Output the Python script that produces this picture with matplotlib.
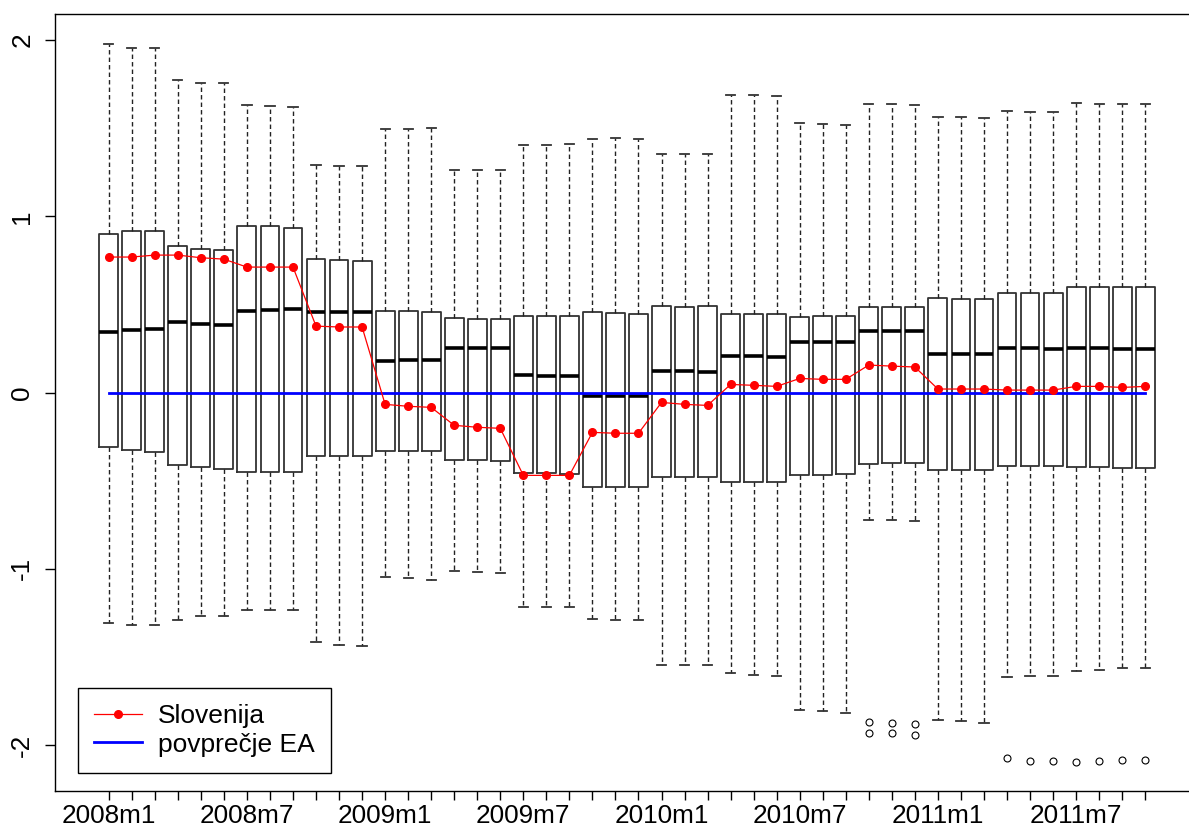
import matplotlib
matplotlib.use('Agg')
import matplotlib.pyplot as plt

plt.rcParams['font.family'] = ['Liberation Sans', 'DejaVu Sans']
plt.rcParams['axes.unicode_minus'] = False

# mesečne porazdelitve 2008m1 - 2011m10
months = ['%dm%d' % (y, m) for y in (2008, 2009, 2010, 2011) for m in range(1, 13)][:46]
tick_labels = ['2008m1', '2008m7', '2009m1', '2009m7', '2010m1', '2010m7', '2011m1', '2011m7']

whis_hi = [1.980, 1.956, 1.956, 1.775, 1.754, 1.754, 1.633, 1.627, 1.622, 1.291, 1.287, 1.287,
           1.497, 1.497, 1.502, 1.262, 1.262, 1.262, 1.406, 1.404, 1.410, 1.440, 1.446, 1.440,
           1.353, 1.353, 1.353, 1.688, 1.688, 1.682, 1.529, 1.523, 1.518, 1.637, 1.637, 1.631,
           1.563, 1.563, 1.557, 1.599, 1.593, 1.593, 1.645, 1.639, 1.639, 1.639]
q3 = [0.901, 0.914, 0.914, 0.831, 0.816, 0.810, 0.946, 0.946, 0.935, 0.759, 0.754, 0.748,
      0.462, 0.462, 0.457, 0.423, 0.417, 0.417, 0.434, 0.434, 0.434, 0.457, 0.451, 0.445,
      0.491, 0.485, 0.491, 0.445, 0.445, 0.445, 0.428, 0.434, 0.434, 0.485, 0.485, 0.485,
      0.536, 0.530, 0.530, 0.565, 0.565, 0.565, 0.599, 0.599, 0.599, 0.599]
med = [0.343, 0.355, 0.360, 0.400, 0.389, 0.383, 0.462, 0.468, 0.474, 0.457, 0.457, 0.457,
       0.179, 0.184, 0.184, 0.252, 0.252, 0.252, 0.099, 0.094, 0.094, -0.020, -0.020, -0.022,
       0.122, 0.122, 0.116, 0.207, 0.207, 0.201, 0.287, 0.287, 0.287, 0.349, 0.349, 0.349,
       0.218, 0.218, 0.218, 0.252, 0.252, 0.247, 0.252, 0.252, 0.247, 0.247]
q1 = [-0.311, -0.324, -0.336, -0.413, -0.425, -0.436, -0.449, -0.449, -0.449, -0.362, -0.362, -0.362,
      -0.334, -0.334, -0.334, -0.385, -0.385, -0.390, -0.459, -0.459, -0.462, -0.538, -0.538, -0.538,
      -0.481, -0.481, -0.481, -0.510, -0.510, -0.510, -0.470, -0.470, -0.464, -0.407, -0.402, -0.402,
      -0.441, -0.441, -0.441, -0.419, -0.419, -0.419, -0.425, -0.425, -0.430, -0.430]
whis_lo = [-1.306, -1.317, -1.317, -1.291, -1.266, -1.266, -1.234, -1.234, -1.234, -1.416, -1.431, -1.438,
           -1.047, -1.053, -1.064, -1.013, -1.018, -1.024, -1.215, -1.215, -1.215, -1.283, -1.289, -1.289,
           -1.544, -1.544, -1.544, -1.590, -1.601, -1.609, -1.801, -1.807, -1.818, -0.723, -0.725, -0.730,
           -1.858, -1.864, -1.875, -1.614, -1.609, -1.609, -1.578, -1.573, -1.563, -1.563]
outliers = {33: [-1.871, -1.932], 34: [-1.877, -1.932], 35: [-1.883, -1.945],
            39: [-2.076], 40: [-2.091], 41: [-2.091], 42: [-2.096],
            43: [-2.091], 44: [-2.085], 45: [-2.085]}

slovenija = [0.769, 0.769, 0.780, 0.780, 0.765, 0.757, 0.712, 0.712, 0.712, 0.377, 0.372, 0.372,
             -0.067, -0.078, -0.084, -0.186, -0.197, -0.203, -0.470, -0.470, -0.470, -0.226, -0.231, -0.231,
             -0.056, -0.067, -0.073, 0.046, 0.041, 0.035, 0.080, 0.075, 0.075, 0.156, 0.150, 0.145,
             0.020, 0.020, 0.020, 0.014, 0.014, 0.014, 0.035, 0.035, 0.029, 0.035]
povprecje_ea = [0.0] * 46


def plot_boxes():
    fig = plt.figure(figsize=(11.89, 8.30), dpi=100)
    # desni rob osi pade izven slike
    ax = fig.add_axes((0.0463, 0.0470, 0.9622, 0.9361))

    pos = list(range(len(months)))
    stats = []
    for i in pos:
        stats.append({'med': med[i], 'q1': q1[i], 'q3': q3[i],
                      'whislo': whis_lo[i], 'whishi': whis_hi[i],
                      'fliers': outliers.get(i, [])})

    ax.bxp(stats, positions=pos, widths=0.82, capwidths=0.40, manage_ticks=False,
           boxprops=dict(color='#333333', linewidth=1.3),
           whiskerprops=dict(color='#222222', linewidth=1.0, linestyle=(0, (3.2, 2.2))),
           capprops=dict(color='#333333', linewidth=1.3),
           medianprops=dict(color='black', linewidth=2.6, solid_capstyle='butt'),
           flierprops=dict(marker='o', markerfacecolor='none', markeredgecolor='black',
                           markersize=5, markeredgewidth=0.8))

    ax.plot(pos, slovenija, color='red', linewidth=0.9, marker='o', markersize=5.5,
            label='Slovenija', zorder=4)
    ax.plot(pos, povprecje_ea, color='blue', linewidth=2.0, label='povprečje EA', zorder=3)

    ax.set_xlim(-2.33, 47.34)
    ax.set_ylim(-2.261, 2.148)

    ax.set_xticks(pos)
    ax.set_xticklabels([m if m in tick_labels else '' for m in months], fontsize=18.8)
    ax.set_yticks([-2, -1, 0, 1, 2])
    ax.set_yticklabels(['-2', '-1', '0', '1', '2'], fontsize=18.8, rotation=90, va='center')
    ax.tick_params(axis='x', length=6.5, width=1, pad=3)
    ax.tick_params(axis='y', length=7, width=1, pad=8)
    for s in ax.spines.values():
        s.set_linewidth(1.0)

    leg = ax.legend(loc='upper left', bbox_to_anchor=(78 / 1189, 1 - 688 / 830),
                    bbox_transform=fig.transFigure, fontsize=19, numpoints=1,
                    handlelength=1.8, handletextpad=0.6, labelspacing=0.16,
                    borderpad=0.62, borderaxespad=0, fancybox=False, framealpha=1)
    leg.get_frame().set_edgecolor('black')
    leg.get_frame().set_linewidth(1.0)

    fig.savefig('out.png', dpi=100)


if __name__ == '__main__':
    plot_boxes()
